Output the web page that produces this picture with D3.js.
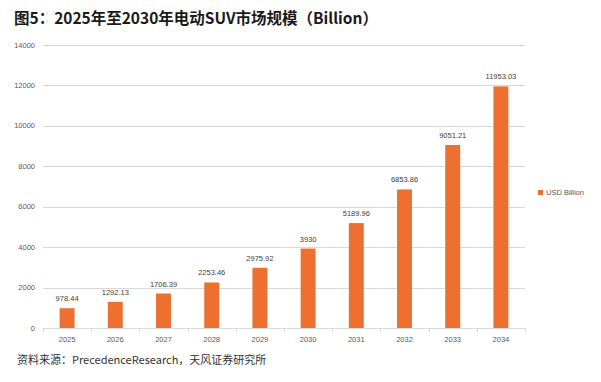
<!DOCTYPE html>
<html><head><meta charset="utf-8">
<script src="https://cdn.jsdelivr.net/npm/d3@7"></script>
<style>body{margin:0;background:#fff;} text{font-family:"Liberation Sans",Arial,sans-serif;}</style>
</head><body><svg id="c" width="601" height="382"></svg>
<script>
const categories = ["2025","2026","2027","2028","2029","2030","2031","2032","2033","2034"];
const values = [978.44,1292.13,1706.39,2253.46,2975.92,3930,5189.96,6853.86,9051.21,11953.03];
const labels = ["978.44","1292.13","1706.39","2253.46","2975.92","3930","5189.96","6853.86","9051.21","11953.03"];
const yTicks = [0,2000,4000,6000,8000,10000,12000,14000];
const seriesName = "USD Billion";
const title = "图5：2025年至2030年电动SUV市场规模（Billion）";
const source = "资料来源：PrecedenceResearch，天风证券研究所";

const svg = d3.select("#c");
const m = {l:43, r:525, t:45, b:328};
const x = d3.scaleBand().domain(categories).range([m.l, m.r]).paddingInner(0.69).paddingOuter(0.345);
const xb = d3.scaleBand().domain(categories).range([m.l, m.r]);
const y = d3.scaleLinear().domain([0,14000]).range([m.b, m.t]);
const col = "#ED7031";

svg.append("text").attr("x",14).attr("y",24).attr("font-size",15.5).attr("font-weight","bold")
  .attr("fill","#1a1a1a").style("font-family","'Noto Sans CJK SC',sans-serif").text(title);

// grid
svg.append("g").selectAll("line").data(yTicks.filter(d=>d>0)).join("line")
  .attr("x1",m.l).attr("x2",m.r).attr("y1",d=>Math.round(y(d))+0.5).attr("y2",d=>Math.round(y(d))+0.5)
  .attr("stroke","#d9d9d9").attr("stroke-width",1);
svg.append("g").selectAll("text").data(yTicks).join("text")
  .attr("x",35).attr("y",d=>y(d)+2.5).attr("text-anchor","end").attr("font-size",7.5).attr("fill","#595959").text(d=>d);

// bars
svg.append("g").selectAll("rect").data(values).join("rect")
  .attr("x",(d,i)=>x(categories[i])).attr("width",x.bandwidth())
  .attr("y",d=>y(d)).attr("height",d=>m.b-y(d)).attr("fill",col);
svg.append("g").selectAll("text").data(values).join("text")
  .attr("x",(d,i)=>x(categories[i])+x.bandwidth()/2).attr("y",d=>y(d)-7)
  .attr("text-anchor","middle").attr("font-size",7.5).attr("fill","#404040").text((d,i)=>labels[i]);

// x axis
svg.append("line").attr("x1",m.l).attr("x2",m.r).attr("y1",m.b+0.5).attr("y2",m.b+0.5).attr("stroke","#d9d9d9");
const bounds = categories.map(c=>xb(c)).concat([m.r]);
svg.append("g").selectAll("line").data(bounds).join("line")
  .attr("x1",d=>Math.round(d)+0.5).attr("x2",d=>Math.round(d)+0.5).attr("y1",m.b).attr("y2",m.b+4).attr("stroke","#d9d9d9");
svg.append("g").selectAll("text").data(categories).join("text")
  .attr("x",d=>xb(d)+xb.bandwidth()/2).attr("y",342).attr("text-anchor","middle")
  .attr("font-size",7.5).attr("fill","#595959").text(d=>d);

// legend
svg.append("rect").attr("x",538).attr("y",190).attr("width",5).attr("height",5).attr("fill",col);
svg.append("text").attr("x",546).attr("y",195).attr("font-size",7.5).attr("fill","#595959").text(seriesName);

svg.append("text").attr("x",17).attr("y",364).attr("font-size",11).attr("fill","#333")
  .style("font-family","'Noto Sans CJK SC',sans-serif").text(source);
</script></body></html>
